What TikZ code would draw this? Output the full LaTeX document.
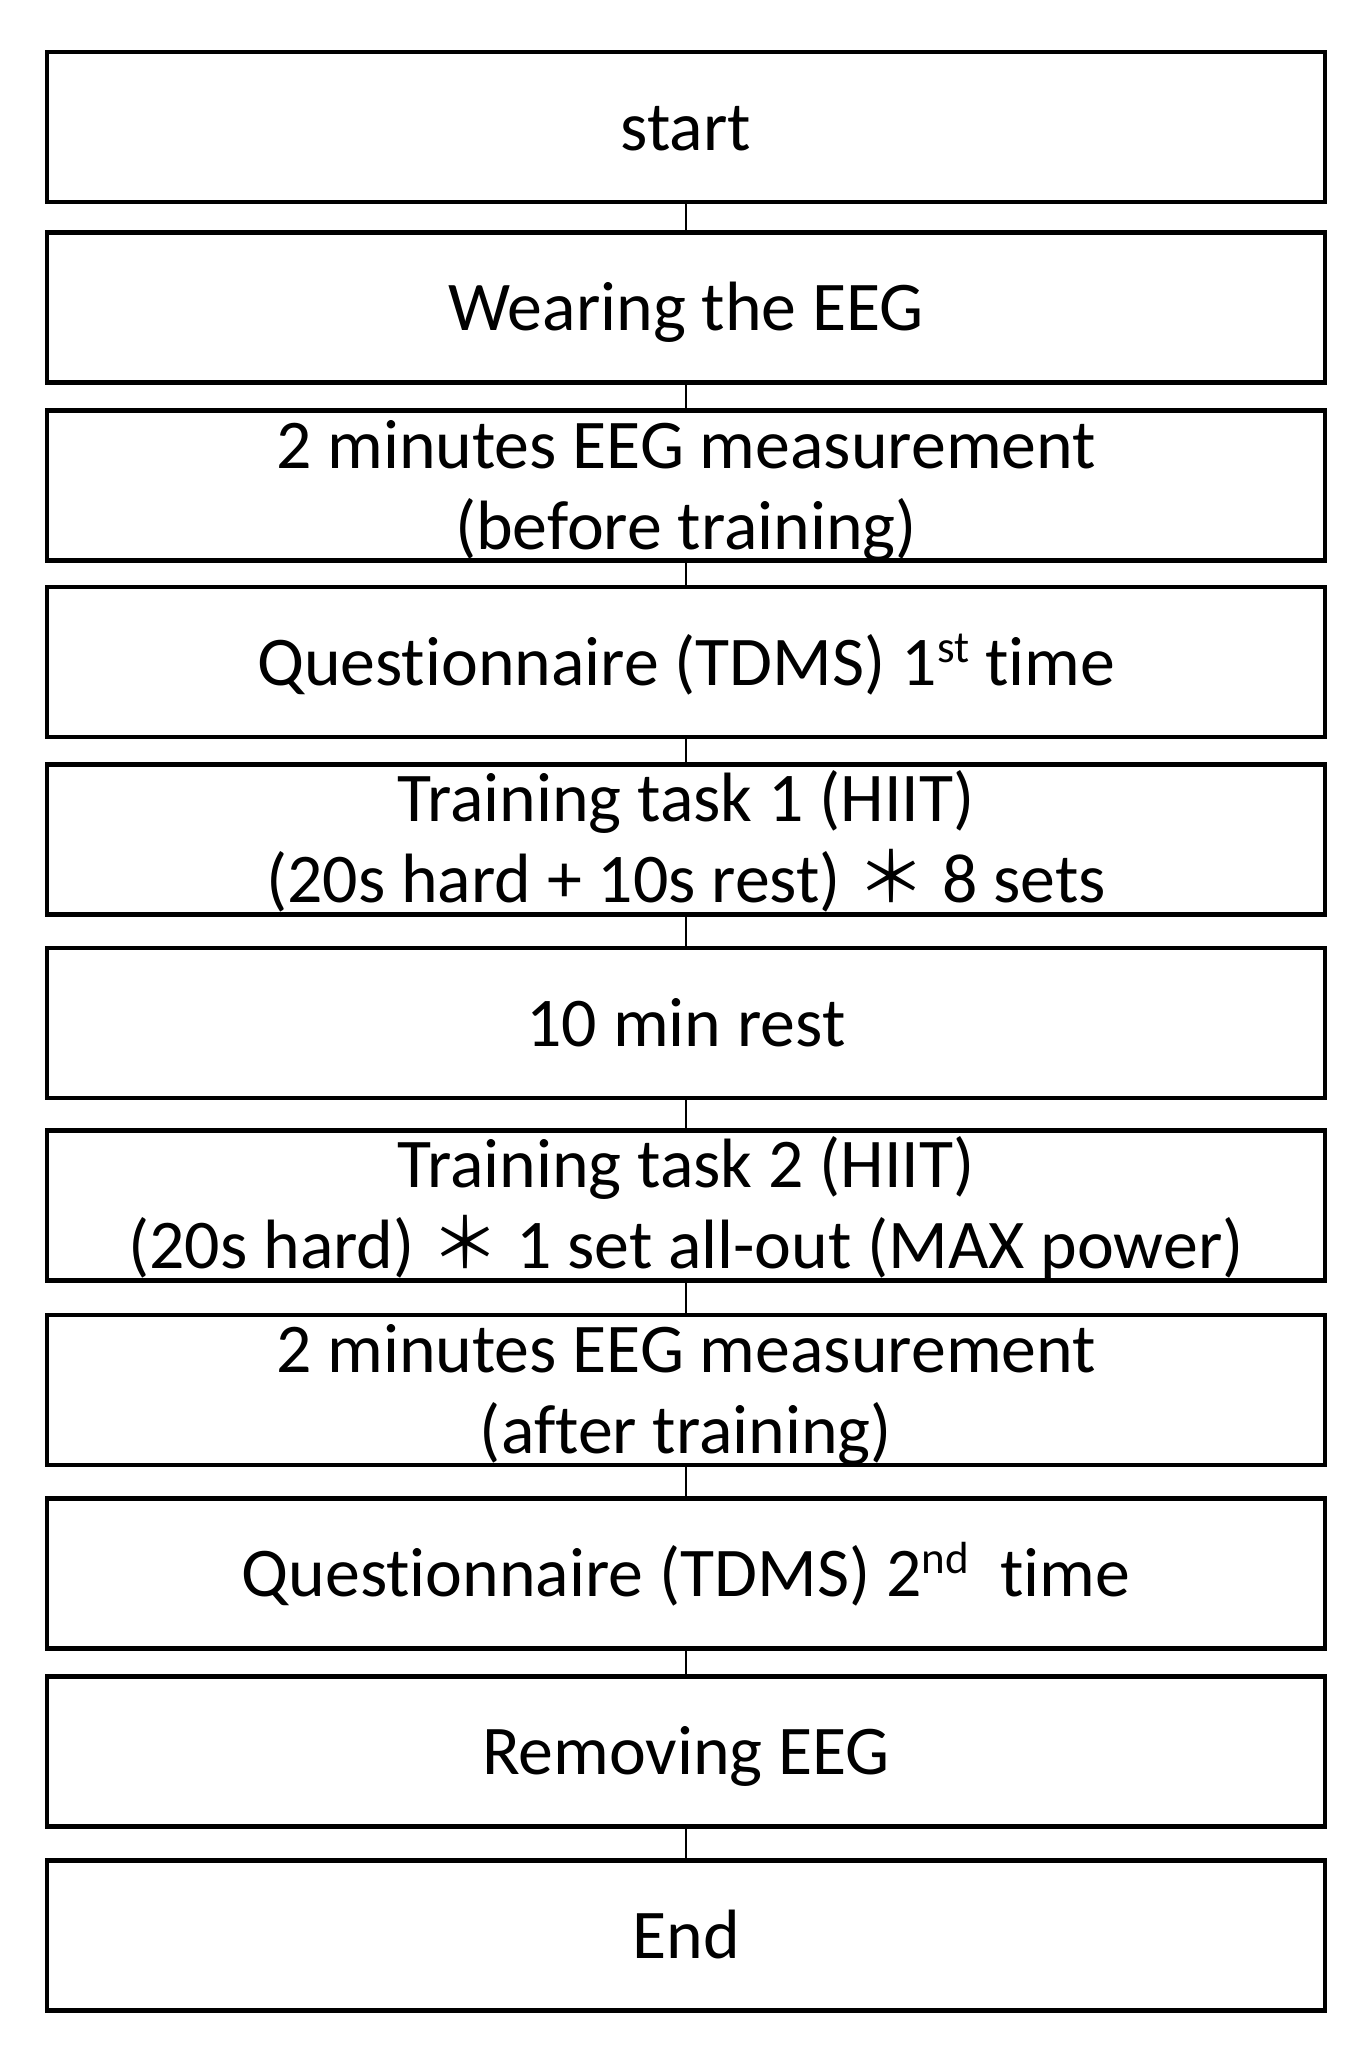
\documentclass[tikz,border=0pt]{standalone}
\usepackage{fontspec}
\setmainfont[Ligatures={NoCommon}]{Carlito}
\newfontfamily\cjk{Noto Sans CJK JP}
\newcommand\supr[1]{\raisebox{11.5pt}{\fontsize{22.5}{22.5}\selectfont #1}}
\begin{document}
\begin{tikzpicture}[x=0.5pt,y=-0.5pt,
  box/.style={draw, line width=2.15pt, minimum width=639pt, minimum height=75pt, inner sep=0pt},
  conn/.style={line width=1.1pt},
  lbl/.style={anchor=base, inner sep=0pt, font=\fontsize{34.9}{40}\selectfont}]
\useasboundingbox (0,0) rectangle (1369,2066);
\fill[white] (0,0) rectangle (1369,2066);
% boxes
\node[box] (b1) at (686,127) {};
\node[box] (b2) at (686,307.5) {};
\node[box] (b3) at (686,485.5) {};
\node[box] (b4) at (686,662) {};
\node[box] (b5) at (686,839.5) {};
\node[box] (b6) at (686,1023) {};
\node[box] (b7) at (686,1205.5) {};
\node[box] (b8) at (686,1390) {};
\node[box] (b9) at (686,1573.5) {};
\node[box] (b10) at (686,1751.5) {};
\node[box] (b11) at (686,1935.5) {};
% connectors
\draw[conn] (b1.south) -- (b2.north);
\draw[conn] (b2.south) -- (b3.north);
\draw[conn] (b3.south) -- (b4.north);
\draw[conn] (b4.south) -- (b5.north);
\draw[conn] (b5.south) -- (b6.north);
\draw[conn] (b6.south) -- (b7.north);
\draw[conn] (b7.south) -- (b8.north);
\draw[conn] (b8.south) -- (b9.north);
\draw[conn] (b9.south) -- (b10.north);
\draw[conn] (b10.south) -- (b11.north);
% labels
\node[lbl] (t1) at (686,150) {start};
\node[lbl] (t2) at (686,330) {Wearing the EEG};
\node[lbl] (t3a) at (686,468) {2 minutes EEG measurement};
\node[lbl] (t3b) at (686,549) {(before training)};
\node[lbl] (t4) at (686,685) {Questionnaire (TDMS) 1\supr{st} time};
\node[lbl] (t5a) at (686,821) {Training task 1 (HIIT)};
\node[lbl] (t5b) at (686,902) {(20s hard + 10s rest)\ {\cjk ＊}\ 8 sets};
\node[lbl] (t6) at (686,1046) {10 min rest};
\node[lbl] (t7a) at (686,1187) {Training task 2 (HIIT)};
\node[lbl] (t7b) at (686,1268) {(20s hard)\ {\cjk ＊}\ 1 set all-out (MAX power)};
\node[lbl] (t8a) at (686,1372) {2 minutes EEG measurement};
\node[lbl] (t8b) at (686,1453) {(after training)};
\node[lbl] (t9) at (686,1596) {Questionnaire (TDMS) 2\supr{nd}~ time};
\node[lbl] (t10) at (686,1774) {Removing EEG};
\node[lbl] (t11) at (686,1958) {End};
\end{tikzpicture}
\end{document}
